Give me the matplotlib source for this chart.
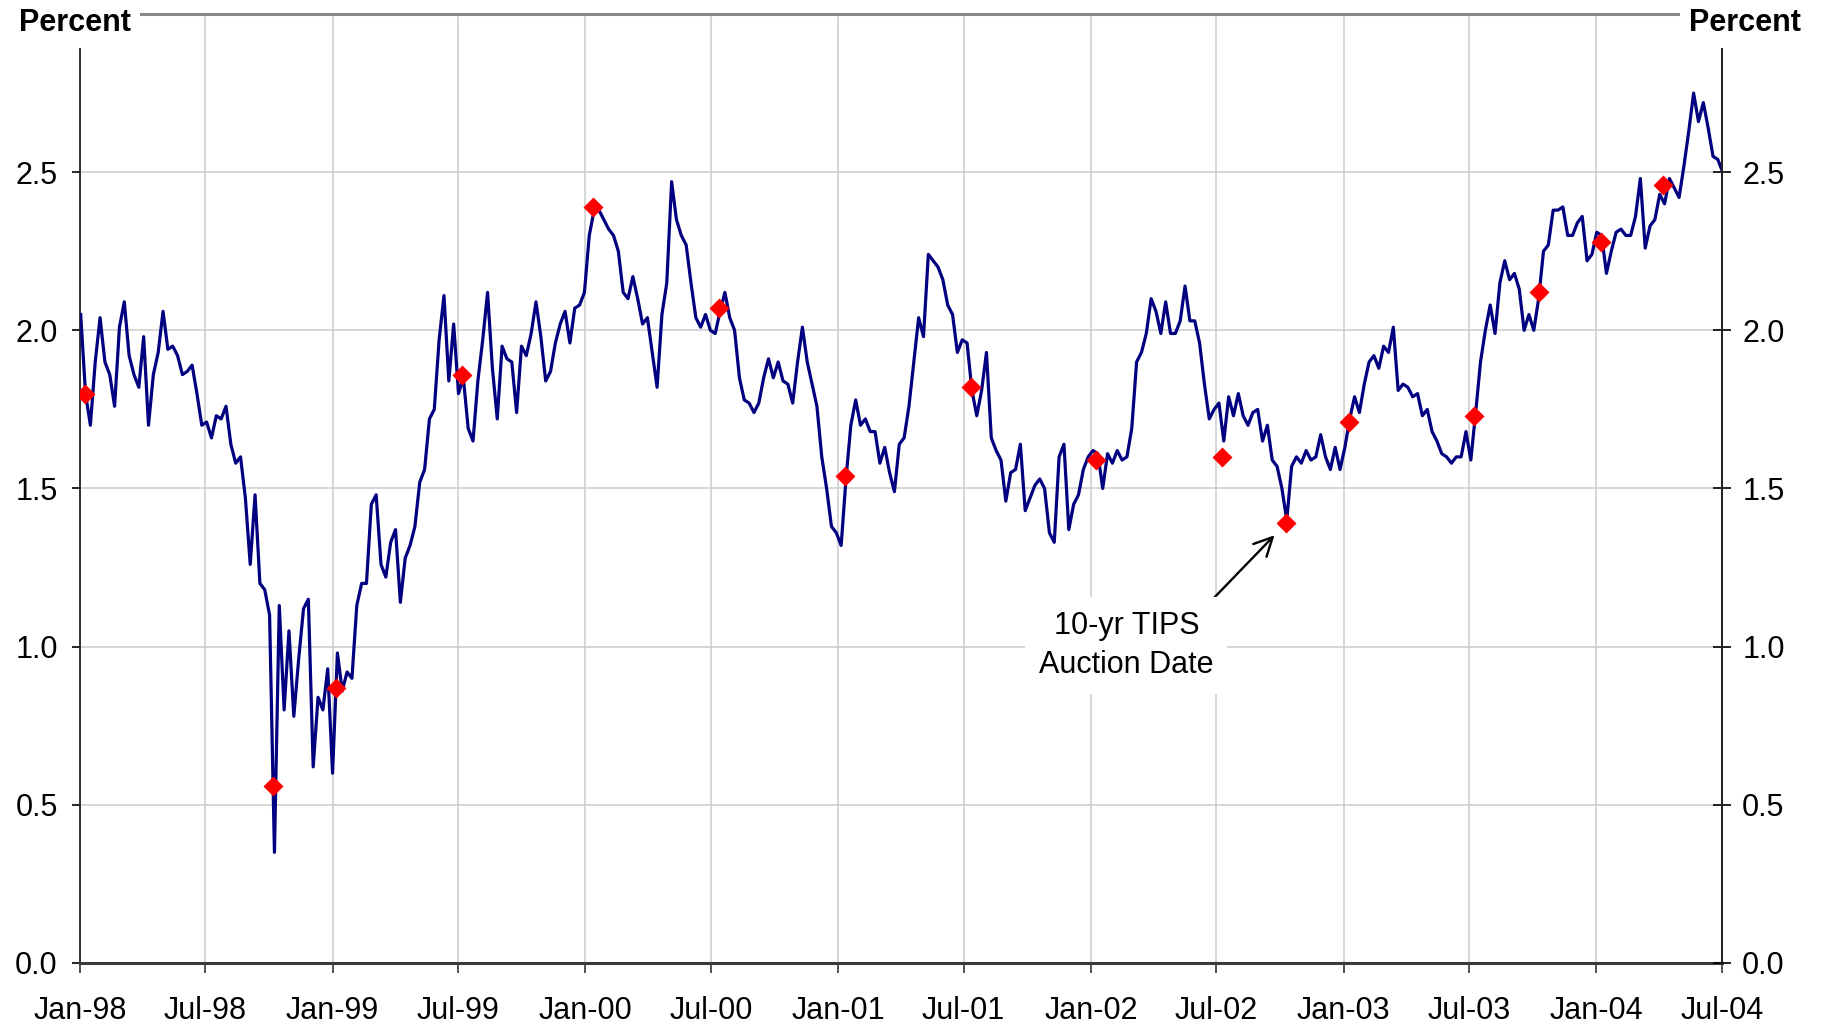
import matplotlib
matplotlib.use('Agg')
import matplotlib.pyplot as plt
import matplotlib.dates as mdates
from matplotlib.patches import Rectangle
import pandas as pd

plt.rcParams['font.family'] = ['Liberation Sans', 'DejaVu Sans']

# weekly readings of the series (percent), first week of each year onwards
vals_1998 = [2.05, 1.80, 1.70, 1.90, 2.04, 1.90, 1.86, 1.76, 2.01, 2.09,
             1.92, 1.86, 1.82, 1.98, 1.70, 1.86, 1.93, 2.06, 1.94, 1.95,
             1.92, 1.86, 1.87, 1.89, 1.80, 1.70, 1.71, 1.66, 1.73, 1.72,
             1.76, 1.64, 1.58, 1.60, 1.47, 1.26, 1.48, 1.20, 1.18, 1.10,
             0.35, 1.13, 0.80, 1.05, 0.78, 0.96, 1.12, 1.15, 0.62, 0.84,
             0.80, 0.93, 0.60]
vals_1999 = [0.98, 0.86, 0.92, 0.90, 1.13, 1.20, 1.20, 1.45, 1.48, 1.26,
             1.22, 1.33, 1.37, 1.14, 1.28, 1.32, 1.38, 1.52, 1.56, 1.72,
             1.75, 1.97, 2.11, 1.84, 2.02, 1.80, 1.85, 1.69, 1.65, 1.84,
             1.97, 2.12, 1.88, 1.72, 1.95, 1.91, 1.90, 1.74, 1.95, 1.92,
             1.99, 2.09, 1.98, 1.84, 1.87, 1.96, 2.02, 2.06, 1.96, 2.07,
             2.08, 2.12]
vals_2000 = [2.30, 2.38, 2.38, 2.35, 2.32, 2.30, 2.25, 2.12, 2.10, 2.17,
             2.10, 2.02, 2.04, 1.93, 1.82, 2.05, 2.15, 2.47, 2.35, 2.30,
             2.27, 2.15, 2.04, 2.01, 2.05, 2.00, 1.99, 2.06, 2.12, 2.04,
             2.00, 1.85, 1.78, 1.77, 1.74, 1.77, 1.85, 1.91, 1.85, 1.90,
             1.84, 1.83, 1.77, 1.90, 2.01, 1.90, 1.83, 1.76, 1.60, 1.50,
             1.38, 1.36]
vals_2001 = [1.32, 1.53, 1.70, 1.78, 1.70, 1.72, 1.68, 1.68, 1.58, 1.63,
             1.55, 1.49, 1.64, 1.66, 1.76, 1.90, 2.04, 1.98, 2.24, 2.22,
             2.20, 2.16, 2.08, 2.05, 1.93, 1.97, 1.96, 1.81, 1.73, 1.81,
             1.93, 1.66, 1.62, 1.59, 1.46, 1.55, 1.56, 1.64, 1.43, 1.47,
             1.51, 1.53, 1.50, 1.36, 1.33, 1.60, 1.64, 1.37, 1.45, 1.48,
             1.56, 1.60]
vals_2002 = [1.62, 1.61, 1.50, 1.61, 1.58, 1.62, 1.59, 1.60, 1.69, 1.90,
             1.93, 1.99, 2.10, 2.06, 1.99, 2.09, 1.99, 1.99, 2.03, 2.14,
             2.03, 2.03, 1.96, 1.83, 1.72, 1.75, 1.77, 1.65, 1.79, 1.73,
             1.80, 1.73, 1.70, 1.74, 1.75, 1.65, 1.70, 1.59, 1.57, 1.50,
             1.40, 1.57, 1.60, 1.58, 1.62, 1.59, 1.60, 1.67, 1.60, 1.56,
             1.63, 1.56]
vals_2003_04 = [1.63, 1.72, 1.79, 1.74, 1.83, 1.90, 1.92, 1.88, 1.95, 1.93,
                2.01, 1.81, 1.83, 1.82, 1.79, 1.80, 1.73, 1.75, 1.68, 1.65,
                1.61, 1.60, 1.58, 1.60, 1.60, 1.68, 1.59, 1.74, 1.90, 2.00,
                2.08, 1.99, 2.15, 2.22, 2.16, 2.18, 2.13, 2.00, 2.05, 2.00,
                2.10, 2.25, 2.27, 2.38, 2.38, 2.39, 2.30, 2.30, 2.34, 2.36,
                2.22, 2.24, 2.31, 2.30, 2.18, 2.25, 2.31, 2.32, 2.30, 2.30,
                2.36, 2.48, 2.26, 2.33, 2.35, 2.43, 2.40, 2.48, 2.45, 2.42,
                2.52, 2.63, 2.75, 2.66, 2.72, 2.64, 2.55, 2.54, 2.50]

series = vals_1998 + vals_1999 + vals_2000 + vals_2001 + vals_2002 + vals_2003_04
weeks = pd.date_range('1998-01-02', periods=len(series), freq='7D')

# 10-yr TIPS auction dates
auction_dates = pd.to_datetime(['1998-01-08', '1998-10-07', '1999-01-06', '1999-07-07',
                                '2000-01-13', '2000-07-13', '2001-01-11', '2001-07-11',
                                '2002-01-09', '2002-07-10', '2002-10-10', '2003-01-09',
                                '2003-07-09', '2003-10-10', '2004-01-08', '2004-04-07'])
auction_vals = [1.80, 0.56, 0.87, 1.86, 2.39, 2.07, 1.54, 1.82,
                1.59, 1.60, 1.39, 1.71, 1.73, 2.12, 2.28, 2.46]

tick_dates = pd.date_range('1998-01-01', '2004-07-01', freq='6MS')
y_ticks = [0.0, 0.5, 1.0, 1.5, 2.0, 2.5]

W, H = 1824, 1027
fig = plt.figure(figsize=(W / 100, H / 100), dpi=100)
ax = fig.add_axes([80 / W, 1 - 963 / H, (1722 - 80) / W, (963 - 14) / H])

ax.plot(weeks, series, color='#000080', lw=2.3, zorder=3)
ax.plot(auction_dates, auction_vals, 'D', color='#ff0000', ms=10, mec='none', zorder=4)

ax.set_xlim(pd.Timestamp('1998-01-01'), pd.Timestamp('2004-07-01'))
ax.set_ylim(0, 3.0)
ax.set_xticks(tick_dates)
ax.xaxis.set_major_formatter(mdates.DateFormatter('%b-%y'))
ax.set_yticks(y_ticks)
ax.yaxis.set_major_formatter(matplotlib.ticker.FormatStrFormatter('%.1f'))
ax.grid(True, color='#cccccc', lw=1.1)
ax.set_axisbelow(True)

ax.tick_params(axis='x', direction='out', length=7.5, width=1.2, pad=16, labelsize=22, color='#333333')
ax.tick_params(axis='y', direction='out', length=6, width=1.2, pad=10, labelsize=22)

for s in ['left', 'right']:
    ax.spines[s].set_color('#222222')
    ax.spines[s].set_linewidth(1.3)
ax.spines['bottom'].set_color('#3a3a3a')
ax.spines['bottom'].set_linewidth(2.2)
ax.spines['top'].set_color('#888888')
ax.spines['top'].set_linewidth(2.2)

ax2 = ax.twinx()
ax2.set_ylim(0, 3.0)
ax2.set_yticks(y_ticks)
ax2.yaxis.set_major_formatter(matplotlib.ticker.FormatStrFormatter('%.1f'))
ax2.tick_params(axis='y', direction='inout', length=13, width=1.2, pad=8, labelsize=22)
for s in ['left', 'top', 'bottom']:
    ax2.spines[s].set_visible(False)
ax2.spines['right'].set_color('#222222')
ax2.spines['right'].set_linewidth(1.3)

ax.annotate('10-yr TIPS\nAuction Date', xy=(auction_dates[10], auction_vals[10]),
            xytext=(-115, -88), textcoords='offset points', ha='center', va='center',
            fontsize=22, linespacing=1.4, zorder=5,
            bbox=dict(boxstyle='square,pad=0.45', fc='white', ec='none'),
            arrowprops=dict(arrowstyle='->,head_length=0.6,head_width=0.3', color='black',
                            lw=1.7, shrinkA=0, shrinkB=12, relpos=(0.93, 1.0)))

# white boxes with the "Percent" headers over the top corners
fig.patches.append(Rectangle((0, 1 - 48 / H), 140 / W, 48 / H, transform=fig.transFigure,
                             fc='white', ec='none', zorder=5))
fig.patches.append(Rectangle((1680 / W, 1 - 48 / H), (W - 1680) / W, 48 / H,
                             transform=fig.transFigure, fc='white', ec='none', zorder=5))
fig.text(19 / W, 1 - 23 / H, 'Percent', ha='left', va='center', fontsize=22,
         fontweight='bold', zorder=6)
fig.text(1801 / W, 1 - 23 / H, 'Percent', ha='right', va='center', fontsize=22,
         fontweight='bold', zorder=6)

fig.savefig('out.png', dpi=100)
